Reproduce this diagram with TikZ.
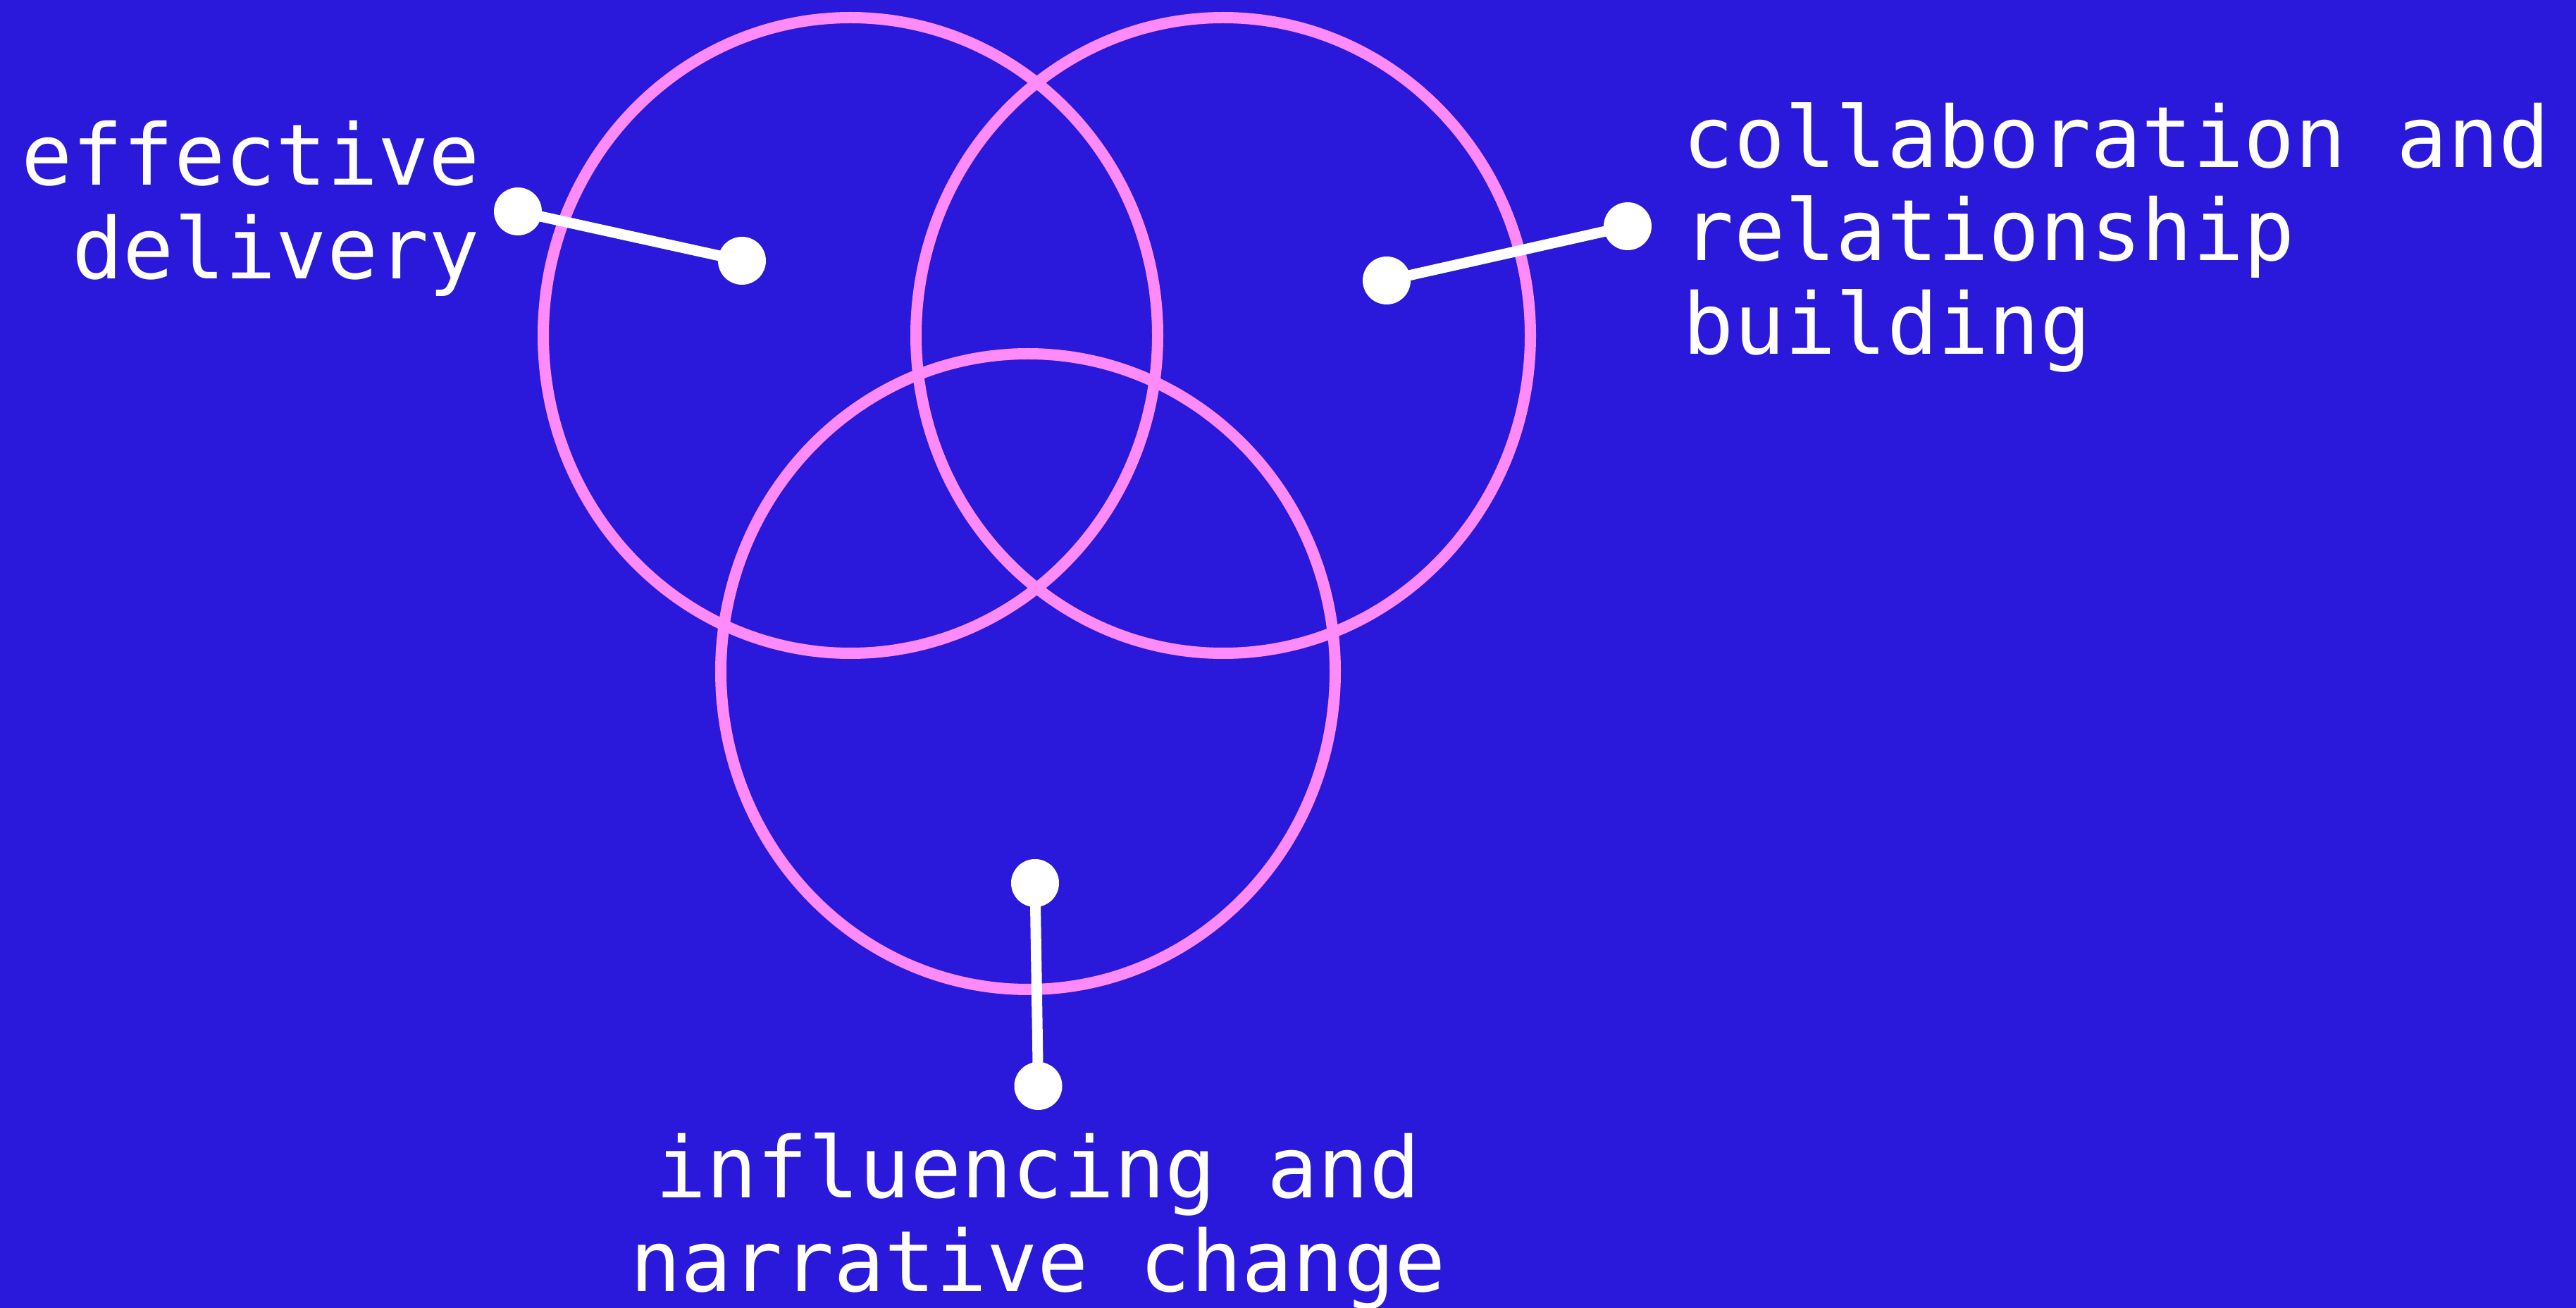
\documentclass[tikz,border=0pt]{standalone}
\usepackage{fontspec}
\newfontfamily\monofont{DejaVu Sans Mono}
\usetikzlibrary{positioning}

\definecolor{bgblue}{RGB}{42,24,219}
\definecolor{ringpink}{RGB}{255,138,250}

\begin{document}
\begin{tikzpicture}[scale=1.0,
    every node/.style={font=\monofont\fontsize{34.2}{37.84}\selectfont, text=white, inner sep=0pt},
    vennring/.style={draw=ringpink, line width=0.16cm},
    dotnode/.style={circle, fill=white, minimum size=0.68cm},
    link/.style={draw=white, line width=0.15cm}]
  \useasboundingbox (0,0) rectangle (36.56,18.55);
  \fill[bgblue] (-0.2,-0.2) rectangle (36.76,18.75);

  % circles
  \draw[vennring] (12.07,13.79) ellipse [x radius=4.36, y radius=4.51];
  \draw[vennring] (17.36,13.79) ellipse [x radius=4.36, y radius=4.51];
  \draw[vennring] (14.59,9.02) ellipse [x radius=4.36, y radius=4.51];

  % end points
  \node[dotnode] (ed1) at (7.35,15.55) {};
  \node[dotnode] (ed2) at (10.53,14.85) {};
  \node[dotnode] (cr1) at (19.68,14.57) {};
  \node[dotnode] (cr2) at (23.10,15.34) {};
  \node[dotnode] (in1) at (14.69,6.02) {};
  \node[dotnode] (in2) at (14.735,3.14) {};

  % links
  \draw[link] (ed1.center) -- (ed2.center);
  \draw[link] (cr1.center) -- (cr2.center);
  \draw[link] (in1.center) -- (in2.center);

  % texts (base = last line)
  \node[align=right, anchor=base east] (edtext) at (6.82,14.59) {effective\\delivery};
  \node[align=left, anchor=base west] (crtext) at (23.88,13.52) {collaboration and\\relationship\\building};
  \node[align=center, anchor=base] (intext) at (14.73,0.23) {influencing and\\narrative change};
\end{tikzpicture}
\end{document}
